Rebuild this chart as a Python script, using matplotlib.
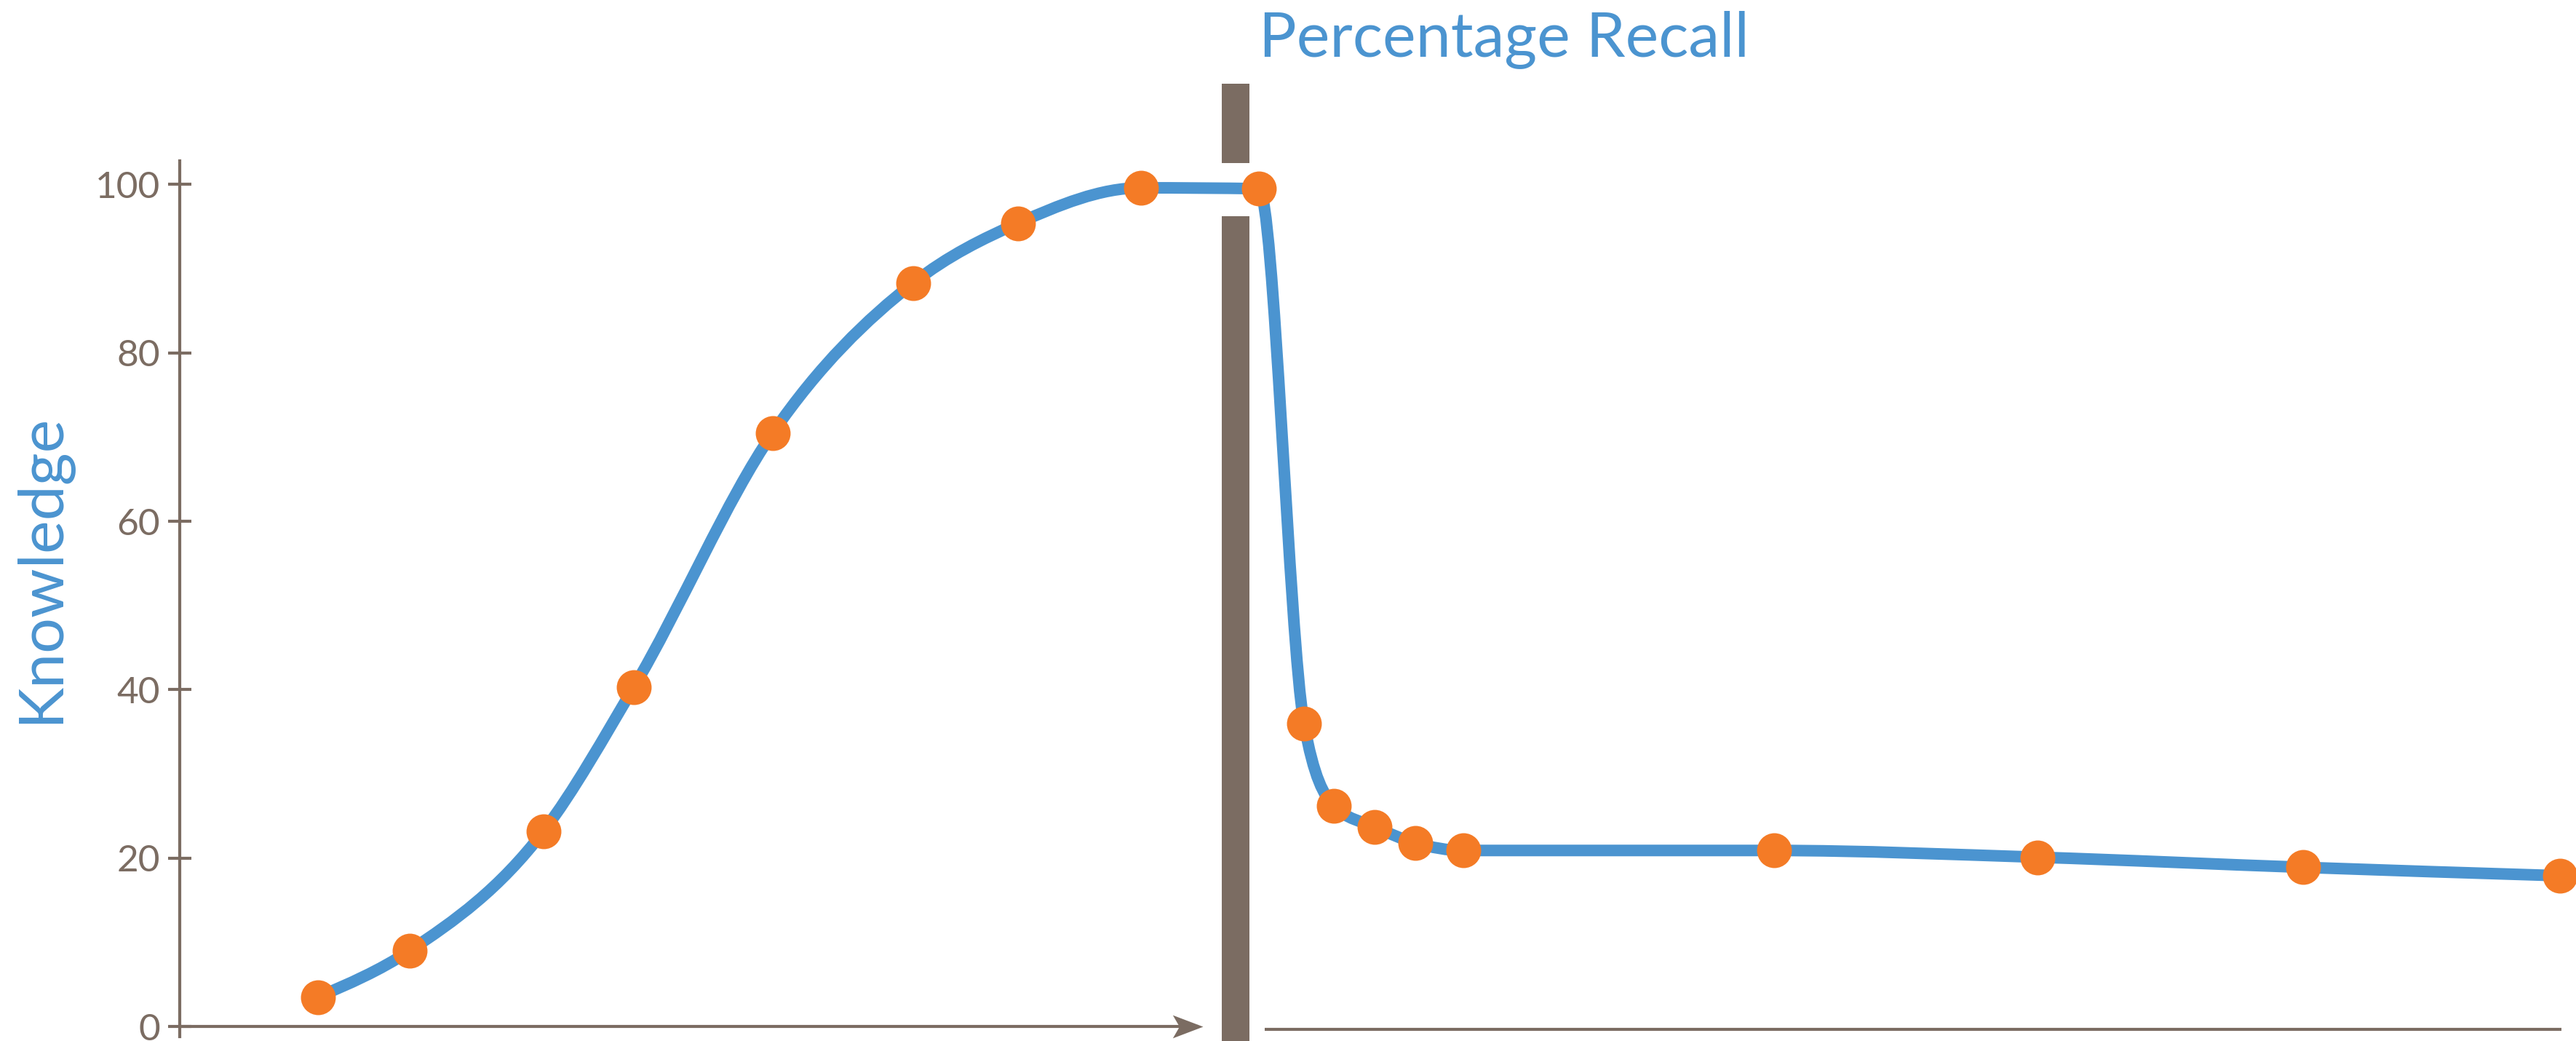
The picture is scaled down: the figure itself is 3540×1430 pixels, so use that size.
import matplotlib
matplotlib.use('Agg')
import matplotlib.pyplot as plt
import matplotlib.transforms as mtransforms
from matplotlib.path import Path
from matplotlib.patches import PathPatch, Rectangle

# time (arbitrary units) vs knowledge (%)
learn_x = [19.0, 31.6, 50.0, 62.4, 81.5, 100.8, 115.2, 132.1]
learn_y = [3.5, 9.0, 23.2, 40.3, 70.5, 88.3, 95.4, 99.6]
recall_x = [148.3, 154.5, 158.6, 164.2, 169.8, 176.4, 219.1, 255.3, 291.8, 327.1]
recall_y = [99.5, 36.0, 26.2, 23.7, 21.8, 20.9, 20.9, 20.1, 18.9, 17.9]
y_ticks = [0, 20, 40, 60, 80, 100]

title = 'Percentage Recall'
y_label = 'Knowledge'

BLUE = '#4b94d0'
ORANGE = '#f47b26'
GREY = '#7b6c62'


def sign(v):
    return (v > 0) - (v < 0)


def monotone_path(xs, ys):
    "monotone cubic through the points, as bezier segments"
    n = len(xs)
    h = [xs[i + 1] - xs[i] for i in range(n - 1)]
    s = [(ys[i + 1] - ys[i]) / h[i] for i in range(n - 1)]
    t = [0.0] * n
    for i in range(1, n - 1):
        p = (s[i - 1] * h[i] + s[i] * h[i - 1]) / (h[i - 1] + h[i])
        t[i] = (sign(s[i - 1]) + sign(s[i])) * min(abs(s[i - 1]), abs(s[i]), 0.5 * abs(p))
    t[0] = (3 * s[0] - t[1]) / 2
    t[-1] = (3 * s[-1] - t[-2]) / 2
    verts = [(xs[0], ys[0])]
    codes = [Path.MOVETO]
    for i in range(n - 1):
        dx = h[i] / 3
        verts += [(xs[i] + dx, ys[i] + dx * t[i]),
                  (xs[i + 1] - dx, ys[i + 1] - dx * t[i + 1]),
                  (xs[i + 1], ys[i + 1])]
        codes += [Path.CURVE4] * 3
    return Path(verts, codes)


fig = plt.figure(figsize=(35.41, 14.30), dpi=100)
ax = fig.add_axes([0.06975, 0.00427, 0.93025, 0.84118])
ax.set_xlim(0, 329.4)
ax.set_ylim(-1.2, 102.8)

for side in ['top', 'right', 'bottom']:
    ax.spines[side].set_visible(False)
ax.spines['left'].set_color(GREY)
ax.spines['left'].set_linewidth(3)

ax.set_xticks([])
ax.set_yticks(y_ticks)
ax.set_yticklabels([str(t) for t in y_ticks])
ax.tick_params(axis='y', direction='inout', length=23, width=3, color=GREY,
               labelcolor=GREY, labelsize=37, pad=8)
for lab in ax.get_yticklabels():
    lab.set_family('Lato')

# x axis: arrow on the learning side, plain line on the recall side
ax.plot([0, 140.0], [0, 0], color=GREY, lw=3, solid_capstyle='butt', clip_on=False)
head = Path([(0, 0), (-1, 0.38), (-0.78, 0), (-1, -0.38), (0, 0)],
            [Path.MOVETO, Path.LINETO, Path.LINETO, Path.LINETO, Path.CLOSEPOLY])
ax.plot([140.6], [0], marker=head, markersize=60, color=GREY, mec='none', clip_on=False)
ax.plot([149.1, 327.3], [-0.35, -0.35], color=GREY, lw=3, solid_capstyle='butt', clip_on=False)

# divider between learning and recall
trans = mtransforms.blended_transform_factory(ax.transData, fig.transFigure)
ax.add_patch(Rectangle((143.2, 0.8434), 3.8, 0.0762, transform=trans,
                       color=GREY, lw=0, clip_on=False))
ax.add_patch(Rectangle((143.2, 0.0), 3.8, 0.7923, transform=trans,
                       color=GREY, lw=0, clip_on=False))

all_x = learn_x + recall_x
all_y = learn_y + recall_y
ax.add_patch(PathPatch(monotone_path(all_x, all_y), facecolor='none', edgecolor=BLUE,
                       lw=11.5, capstyle='round', joinstyle='round', zorder=3, clip_on=False))
ax.plot(all_x, all_y, 'o', color=ORANGE, markersize=34.5, mec='none', zorder=4, clip_on=False)

fig.text(1730 / 3541, 1 - 77 / 1430, title, fontsize=62, family='Lato', color=BLUE,
         ha='left', va='baseline')
fig.text(56 / 3541, 1 - 781 / 1430, y_label, fontsize=62, family='Lato', color=BLUE,
         rotation=90, ha='center', va='center')

fig.savefig('out.png', dpi=100)
